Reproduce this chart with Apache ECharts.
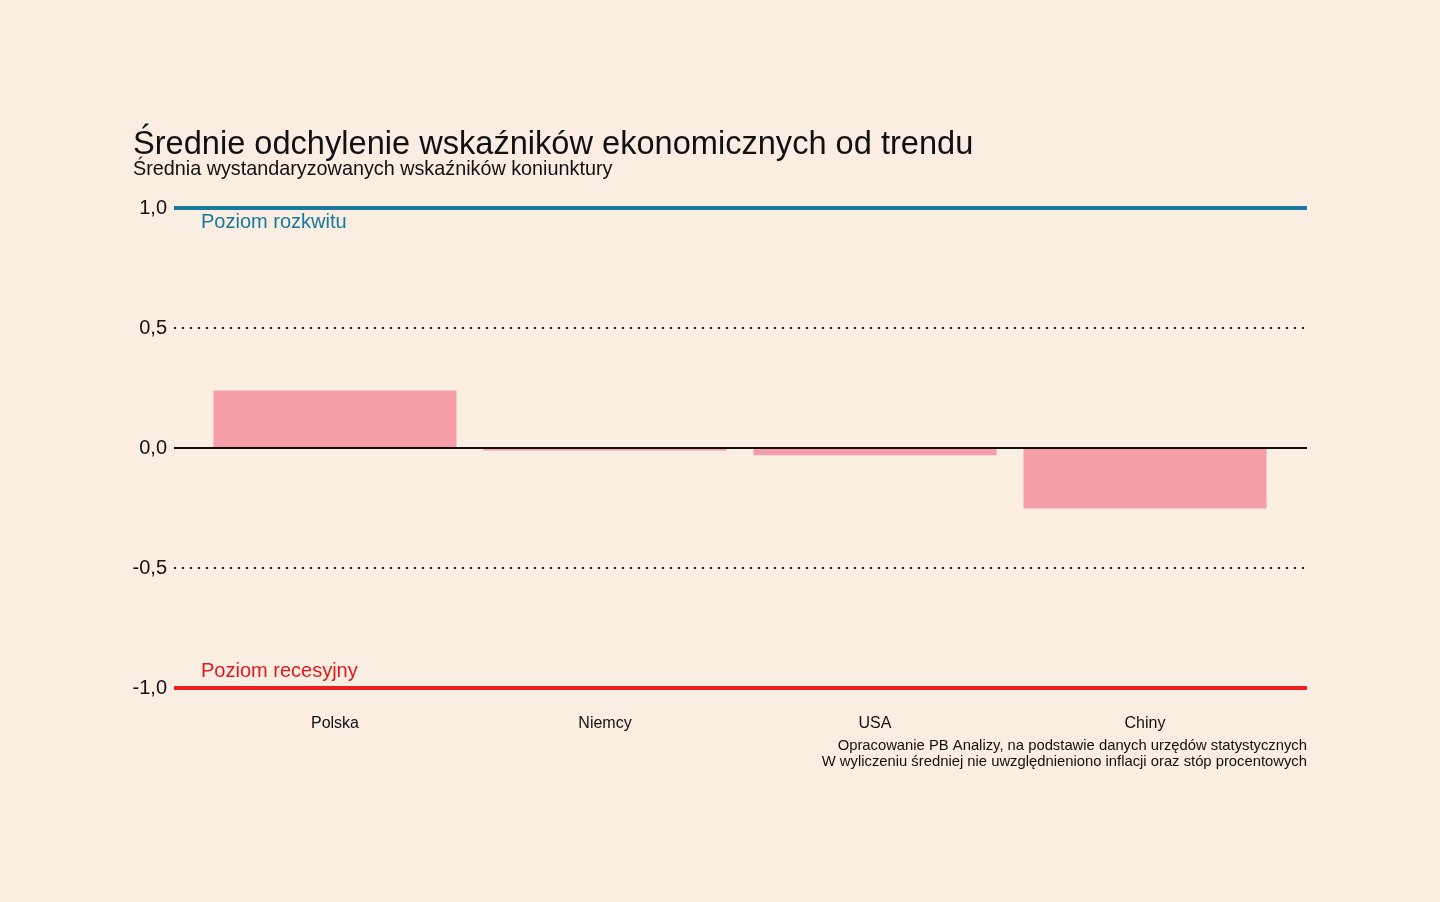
<!DOCTYPE html>
<html><head><meta charset="utf-8">
<script src="https://cdn.jsdelivr.net/npm/echarts@6/dist/echarts.min.js"></script>
<style>html,body{margin:0;padding:0;background:#faede1;}#c{width:1440px;height:902px;}</style>
</head><body><div id="c"></div>
<script>
const categories = ['Polska', 'Niemcy', 'USA', 'Chiny'];
const values = [0.24, -0.01, -0.03, -0.252];
const yTicks = [-1, -0.5, 0, 0.5, 1];
const upperLevel = 1.0;
const lowerLevel = -1.0;
const upperLabel = 'Poziom rozkwitu';
const lowerLabel = 'Poziom recesyjny';
const titleText = 'Średnie odchylenie wskaźników ekonomicznych od trendu';
const subtitleText = 'Średnia wystandaryzowanych wskaźników koniunktury';
const captionLines = ['Opracowanie PB Analizy, na podstawie danych urzędów statystycznych', 'W wyliczeniu średniej nie uwzględnieniono inflacji oraz stóp procentowych'];

const font = '"Liberation Sans", Arial, sans-serif';
const chart = echarts.init(document.getElementById('c'));
chart.setOption({
  backgroundColor: '#faede1',
  animation: false,
  title: [
    {text: titleText, left: 128, top: 124, padding: 5, textStyle: {fontFamily: font, fontSize: 32.6, fontWeight: 'normal', color: '#111'}},
    {text: subtitleText, left: 128, top: 155, padding: 5, textStyle: {fontFamily: font, fontSize: 19.8, fontWeight: 'normal', color: '#111'}}
  ],
  graphic: [
    {type: 'text', right: 133, top: 738, style: {text: captionLines.join('\n'), font: '14.8px ' + font, fill: '#111', textAlign: 'right', lineHeight: 16}}
  ],
  grid: [
    {left: 174, right: 133, top: 208, bottom: 214},
    {left: 200, right: 160, top: 208, bottom: 214}
  ],
  xAxis: [
    {type: 'category', gridIndex: 0, data: [''], show: false},
    {
      type: 'category', gridIndex: 1, data: categories,
      axisLine: {show: false}, axisTick: {show: false},
      axisLabel: {fontFamily: font, fontSize: 16, color: '#111', margin: 28}
    }
  ],
  yAxis: [
    {
      type: 'value', gridIndex: 0, min: -1, max: 1, interval: 0.5,
      axisLine: {show: false}, axisTick: {show: false}, splitLine: {show: false},
      axisLabel: {fontFamily: font, fontSize: 20, color: '#111', margin: 7,
        formatter: v => yTicks.includes(v) ? v.toFixed(1).replace('.', ',') : ''}
    },
    {
      type: 'value', gridIndex: 1, min: -1, max: 1, interval: 0.5, show: false,
      splitLine: {show: false}
    }
  ],
  series: [
    {
      type: 'bar', xAxisIndex: 1, yAxisIndex: 1, data: values, barCategoryGap: '10%', z: 2,
      itemStyle: {color: '#f59eaa'}
    },
    {
      type: 'line', xAxisIndex: 0, yAxisIndex: 0, data: [], z: 3,
      markLine: {
        silent: true, symbol: 'none', z: 3,
        data: [
          {yAxis: 0.5, lineStyle: {color: '#222', type: [2, 6], width: 2}, label: {show: false}},
          {yAxis: -0.5, lineStyle: {color: '#222', type: [2, 6], width: 2}, label: {show: false}},
          {yAxis: 0, lineStyle: {color: '#111', type: 'solid', width: 2}, label: {show: false}},
          {yAxis: upperLevel, lineStyle: {color: '#17799b', type: 'solid', width: 4},
            label: {show: true, formatter: upperLabel, position: 'insideStartBottom', distance: [27, 4], color: '#17799b', fontFamily: font, fontSize: 20}},
          {yAxis: lowerLevel, lineStyle: {color: '#ee1c1c', type: 'solid', width: 4},
            label: {show: true, formatter: lowerLabel, position: 'insideStartTop', distance: [27, 7], color: '#e01b1b', fontFamily: font, fontSize: 20}}
        ]
      }
    }
  ]
});
</script></body></html>
